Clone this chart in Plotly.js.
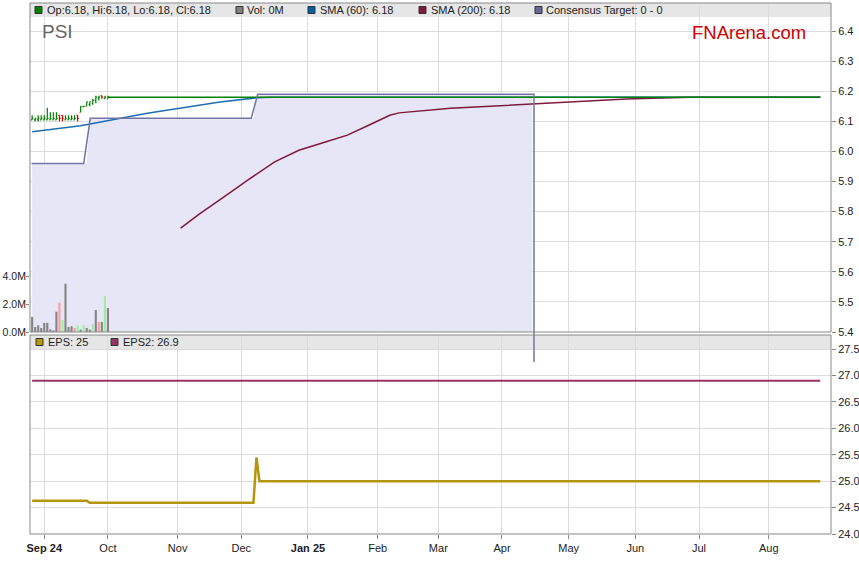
<!DOCTYPE html>
<html>
<head>
<meta charset="utf-8">
<script src="https://cdn.plot.ly/plotly-3.0.1.min.js"></script>
<style>html,body{margin:0;padding:0;background:#fff;}#chart{width:859px;height:566px;}</style>
</head>
<body>
<div id="chart"></div>
<script>
// ---------- DATA ----------
const ohlcDates = ['2024-08-27','2024-08-28','2024-08-29','2024-08-30','2024-09-02','2024-09-03','2024-09-04','2024-09-05','2024-09-06','2024-09-09','2024-09-10','2024-09-11','2024-09-12','2024-09-13','2024-09-16','2024-09-17','2024-09-18','2024-09-19','2024-09-20','2024-09-23','2024-09-24','2024-09-25','2024-09-26','2024-09-27','2024-09-30','2024-10-01'];
const priceOpen  = [6.105,6.105,6.105,6.105,6.105,6.105,6.105,6.105,6.105,6.12,6.12,6.105,6.105,6.105,6.105,6.12,6.13,6.148,6.15,6.155,6.16,6.17,6.175,6.185,6.175,6.175];
const priceHigh  = [6.12,6.11,6.12,6.12,6.12,6.145,6.13,6.13,6.13,6.12,6.12,6.12,6.12,6.12,6.12,6.12,6.15,6.152,6.165,6.165,6.175,6.185,6.185,6.185,6.185,6.185];
const priceLow   = [6.105,6.10,6.10,6.105,6.105,6.105,6.105,6.105,6.105,6.10,6.10,6.105,6.105,6.105,6.105,6.10,6.13,6.148,6.15,6.15,6.155,6.16,6.17,6.175,6.175,6.175];
const priceClose = [6.11,6.11,6.11,6.11,6.11,6.11,6.11,6.11,6.11,6.11,6.11,6.11,6.11,6.11,6.11,6.11,6.15,6.15,6.165,6.165,6.17,6.18,6.18,6.18,6.18,6.18];
const volumeM    = [1.08,0.36,0.48,0.29,0.65,0.65,0.19,0.12,1.45,2.1,0.84,3.45,0.36,0.41,0.29,0.48,0.17,0.48,0.29,0.17,0.55,1.57,0.72,0.72,2.58,1.71];
const volumeDir  = ['n','n','n','n','n','n','n','n','n','d','u','n','n','n','d','u','n','u','n','n','u','n','d','n','u','n'];
const closeLineDates = ['2024-10-01','2025-08-26'];
const closeLineVals  = [6.18,6.18];
const sma60Dates = ['2024-08-27','2024-09-18','2024-10-18','2024-11-21','2024-12-09','2024-12-16','2025-08-26'];
const sma60Vals  = [6.065,6.085,6.127,6.164,6.178,6.18,6.18];
const sma200Dates = ['2024-11-04','2024-11-12','2024-11-25','2024-12-04','2024-12-17','2024-12-27','2025-01-09','2025-01-20','2025-01-29','2025-02-07','2025-02-12','2025-03-07','2025-04-23','2025-05-28','2025-06-26','2025-08-26'];
const sma200Vals  = [5.745,5.791,5.854,5.904,5.965,6.004,6.032,6.054,6.087,6.12,6.128,6.143,6.161,6.174,6.18,6.18];
const consDates = ['2024-08-27','2024-09-20','2024-09-23','2024-12-06','2024-12-09','2025-04-15','2025-04-15'];
const consVals  = [5.96,5.96,6.11,6.11,6.19,6.19,0];
const epsDates = ['2024-08-27','2024-09-20','2024-09-23','2024-12-06','2024-12-09','2024-12-10','2025-08-26'];
const epsVals  = [24.63,24.63,24.59,24.59,25.45,25.0,25.0];
const eps2Dates = ['2024-08-27','2025-08-26'];
const eps2Vals  = [26.9,26.9];
const tickDates = ['2024-09-02','2024-10-01','2024-11-01','2024-12-02','2025-01-01','2025-02-03','2025-03-03','2025-04-01','2025-05-01','2025-06-02','2025-07-01','2025-08-01'];
const tickLabels = ['<b>Sep 24</b>','Oct','Nov','Dec','<b>Jan 25</b>','Feb','Mar','Apr','May','Jun','Jul','Aug'];
const volTickVals = [0,2e6,4e6];
const volTickText = ['0.0M','2.0M','4.0M'];

// ---------- STYLE / LAYOUT HELPERS ----------
const W=859, H=566, L=30, R=28;
const px = x => (x-L)/(W-L-R);
const py = y => (H-y)/H;
const FONT = 'Liberation Sans, Arial, sans-serif';
const GRID = '#dcdcdc';
const volColorMap = {n:'#858585', d:'#ff9b9b', u:'#9cf09c'};

const traces = [
  {type:'scatter', x:consDates, y:consVals, xaxis:'x', yaxis:'y', mode:'lines',
   line:{width:0, color:'rgba(0,0,0,0)'}, fill:'tozeroy', fillcolor:'#e6e6f6', hoverinfo:'skip'},
  {type:'bar', x:ohlcDates, y:volumeM.map(v=>v*1e6), xaxis:'x', yaxis:'y2',
   marker:{color:volumeDir.map(d=>volColorMap[d]), line:{width:0}}, width:0.7*86400000},
  {type:'scatter', x:sma200Dates, y:sma200Vals, xaxis:'x', yaxis:'y', mode:'lines',
   line:{color:'#801a3c', width:1.5}},
  {type:'scatter', x:sma60Dates, y:sma60Vals, xaxis:'x', yaxis:'y', mode:'lines',
   line:{color:'#1f6db0', width:1.5}},
  {type:'scatter', x:closeLineDates, y:closeLineVals, xaxis:'x', yaxis:'y', mode:'lines',
   line:{color:'#008000', width:1.5}},
  {type:'ohlc', x:ohlcDates, open:priceOpen, high:priceHigh, low:priceLow, close:priceClose,
   xaxis:'x', yaxis:'y', tickwidth:0.4,
   increasing:{line:{color:'#008000', width:1.2}}, decreasing:{line:{color:'#d00000', width:1.2}}},
  {type:'scatter', x:consDates, y:consVals, xaxis:'x2', yaxis:'y3', mode:'lines',
   line:{color:'#7474a6', width:1.5}},
  {type:'scatter', x:eps2Dates, y:eps2Vals, xaxis:'x', yaxis:'y4', mode:'lines',
   line:{color:'#993366', width:2}},
  {type:'scatter', x:epsDates, y:epsVals, xaxis:'x', yaxis:'y4', mode:'lines',
   line:{color:'#b4960c', width:2.5}}
];

const xRange = ['2024-08-26 07:00','2025-08-29 13:00'];
const rb = [{bounds:['sat','mon']}];
const priceTop = 5.4 + 329/301;

function legendSq(x, yc, color){
  return {type:'rect', xref:'paper', yref:'paper', x0:px(x), x1:px(x+7), y0:py(yc+3.5), y1:py(yc-3.5),
          fillcolor:color, line:{color:'#333', width:1}, layer:'above'};
}
function legendTxt(x, yc, text){
  return {xref:'paper', yref:'paper', x:px(x), y:py(yc), xanchor:'left', yanchor:'middle',
          text:text, showarrow:false, font:{family:FONT, size:11, color:'#222'}, borderpad:0};
}

const layout = {
  width:W, height:H, margin:{l:L, r:R, t:0, b:0},
  paper_bgcolor:'#fff', plot_bgcolor:'rgba(0,0,0,0)',
  showlegend:false, font:{family:FONT, size:11, color:'#222'},
  xaxis:{type:'date', range:xRange, rangebreaks:rb, domain:[0,1], anchor:'y4',
         tickvals:tickDates, ticktext:tickLabels, ticks:'outside', ticklen:4, tickcolor:'#888',
         showgrid:true, gridcolor:GRID, gridwidth:1, zeroline:false, showline:false,
         rangeslider:{visible:false}, tickfont:{family:FONT, size:11, color:'#222'}, automargin:false},
  xaxis2:{type:'date', range:xRange, rangebreaks:rb, domain:[0,1], anchor:'y3', visible:false,
          showgrid:false, rangeslider:{visible:false}},
  yaxis:{domain:[py(332), py(3)], range:[5.4, priceTop], side:'right', anchor:'x',
         tick0:5.4, dtick:0.1, tickformat:'.1f', ticks:'outside', ticklen:4, tickcolor:'#888',
         showgrid:true, gridcolor:GRID, zeroline:false, showline:false, automargin:false,
         tickfont:{family:FONT, size:11, color:'#222'}},
  yaxis2:{overlaying:'y', side:'left', range:[0, 23.5e6], tickvals:volTickVals, ticktext:volTickText,
          ticks:'outside', ticklen:3, tickcolor:'#888', showgrid:false, zeroline:false, showline:false,
          automargin:false, ticklabelstandoff:-2, tickfont:{family:FONT, size:10.5, color:'#222'}},
  yaxis3:{domain:[py(362), py(3)], range:[5.4-30/301, priceTop], anchor:'x2', visible:false, showgrid:false},
  yaxis4:{domain:[py(534), py(335)], range:[24, 24+199/52.857], side:'right', anchor:'x',
          tick0:24, dtick:0.5, tickformat:'.1f', ticks:'outside', ticklen:4, tickcolor:'#888',
          showgrid:true, gridcolor:GRID, zeroline:false, showline:false, automargin:false,
          tickfont:{family:FONT, size:11, color:'#222'}},
  shapes:[
    {type:'rect', xref:'paper', yref:'paper', x0:0, x1:1, y0:py(17), y1:py(3), fillcolor:'#e6e6e6', line:{width:0}, layer:'below'},
    {type:'rect', xref:'paper', yref:'paper', x0:0, x1:1, y0:py(349), y1:py(335), fillcolor:'#e6e6e6', line:{width:0}, layer:'below'},
    {type:'rect', xref:'paper', yref:'paper', x0:0, x1:1, y0:py(332), y1:py(3), fillcolor:'rgba(0,0,0,0)', line:{color:'#888', width:1}, layer:'above'},
    {type:'rect', xref:'paper', yref:'paper', x0:0, x1:1, y0:py(534), y1:py(335), fillcolor:'rgba(0,0,0,0)', line:{color:'#888', width:1}, layer:'above'},
    legendSq(35, 10, '#008000'),
    legendSq(236, 10, '#808080'),
    legendSq(308, 10, '#0060a0'),
    legendSq(419, 10, '#801a3c'),
    legendSq(535, 10, '#666699'),
    legendSq(36, 342, '#b4960c'),
    legendSq(111, 342, '#993366')
  ],
  annotations:[
    legendTxt(46, 10, 'Op:6.18, Hi:6.18, Lo:6.18, Cl:6.18'),
    legendTxt(246, 10, 'Vol: 0M'),
    legendTxt(319, 10, 'SMA (60): 6.18'),
    legendTxt(430, 10, 'SMA (200): 6.18'),
    legendTxt(545, 10, 'Consensus Target: 0 - 0'),
    legendTxt(47, 342, 'EPS: 25'),
    legendTxt(122, 342, 'EPS2: 26.9'),
    {xref:'paper', yref:'paper', x:px(41), y:py(32), xanchor:'left', yanchor:'middle', text:'PSI',
     showarrow:false, borderpad:0, font:{family:FONT, size:19, color:'#666'}},
    {xref:'paper', yref:'paper', x:px(691), y:py(33), xanchor:'left', yanchor:'middle', text:'FNArena.com',
     showarrow:false, borderpad:0, font:{family:FONT, size:18.5, color:'#cc0000'}}
  ]
};

Plotly.newPlot('chart', traces, layout, {displayModeBar:false, staticPlot:true});
</script>
</body>
</html>
